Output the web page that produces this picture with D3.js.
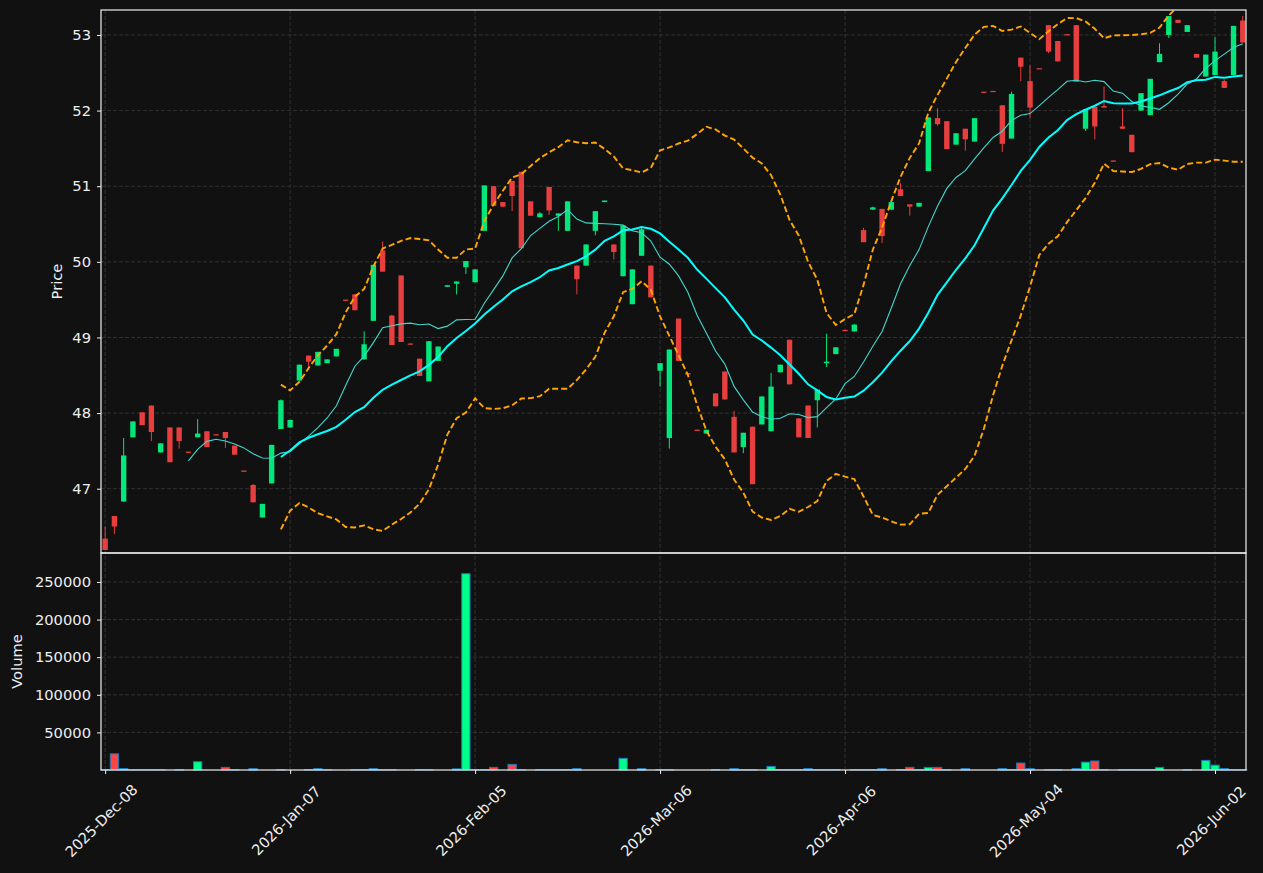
<!DOCTYPE html>
<html>
<head>
<meta charset="utf-8">
<script src="https://cdn.jsdelivr.net/npm/d3@7"></script>
<style>
  html, body { margin: 0; padding: 0; background: #111111; }
  svg { display: block; }
  text { font-family: "DejaVu Sans", sans-serif; fill: #eeeeee; }
</style>
</head>
<body>
<svg id="chart" width="1263" height="873"></svg>
<script>
// daily bars, index 0 = 2025-12-08 ... index 123 = 2026-06-05
var opens = [46.34,46.64,46.83,47.68,48.01,48.10,47.48,47.81,47.81,47.49,47.68,47.76,47.72,47.75,47.57,47.24,47.05,46.62,47.07,47.79,
  47.81,48.43,48.76,48.63,48.66,48.75,49.50,49.57,48.71,49.22,50.15,49.29,49.82,48.92,48.72,48.42,48.69,49.67,49.71,49.93,
  49.73,50.41,51.00,50.79,51.07,51.19,50.80,50.59,50.99,50.61,50.41,49.95,49.95,50.41,50.79,50.23,49.81,49.44,50.08,49.95,
  48.56,47.67,49.25,48.53,47.78,47.73,48.26,48.55,47.95,47.55,47.82,47.85,47.76,48.54,48.97,47.93,48.10,48.17,48.66,48.78,
  49.10,49.08,50.42,50.69,50.70,50.69,50.96,50.76,50.73,51.20,51.90,51.86,51.55,51.76,51.59,52.25,52.26,52.07,51.63,52.70,
  52.39,52.56,53.13,52.92,53.01,53.13,51.76,52.05,52.06,51.34,51.79,51.68,52.00,51.94,52.64,53.00,53.20,53.04,52.75,52.45,
  52.47,52.39,52.47,53.19];
var highs = [46.50,46.64,47.67,47.89,48.01,48.10,47.60,47.81,47.81,47.49,47.92,47.76,47.72,47.75,47.57,47.24,47.06,46.80,47.58,48.18,
  47.91,48.64,48.76,48.81,48.71,48.85,49.50,49.57,49.08,49.96,50.27,49.30,49.82,48.92,48.72,48.95,48.88,49.69,49.74,50.01,
  49.90,51.01,51.00,50.79,51.07,51.19,50.80,50.66,50.99,50.64,50.80,49.95,50.23,50.67,50.81,50.23,50.48,49.90,50.46,49.95,
  48.66,48.84,49.25,48.53,47.78,47.78,48.26,48.55,48.03,47.74,47.82,48.22,48.53,48.64,48.97,47.93,48.10,48.31,49.05,48.87,
  49.10,49.18,50.45,50.73,50.70,50.79,51.04,50.76,50.78,51.91,52.03,51.86,51.70,51.76,51.90,52.25,52.26,52.07,52.25,52.70,
  52.60,52.56,53.13,52.92,53.01,53.13,52.02,52.05,52.32,51.34,52.03,51.68,52.23,52.42,52.89,53.25,53.20,53.13,52.75,52.74,
  52.97,52.41,53.12,53.25];
var lows = [46.19,46.40,46.83,47.68,47.84,47.63,47.48,47.35,47.53,47.48,47.68,47.55,47.71,47.54,47.45,47.23,46.82,46.62,47.07,47.79,
  47.81,48.43,48.57,48.63,48.66,48.75,49.49,49.36,48.71,49.22,49.87,48.90,48.94,48.91,48.49,48.42,48.69,49.67,49.57,49.84,
  49.73,50.41,50.74,50.73,50.67,50.18,50.61,50.59,50.62,50.41,50.41,49.57,49.95,50.35,50.79,50.03,49.81,49.44,50.08,49.53,
  48.35,47.53,48.69,48.51,47.77,47.73,48.09,48.18,47.48,47.47,47.06,47.85,47.76,48.54,48.38,47.68,47.67,47.81,48.61,48.78,
  49.09,49.08,50.26,50.69,50.25,50.69,50.87,50.61,50.73,51.20,51.80,51.49,51.55,51.47,51.59,52.24,52.25,51.45,51.63,52.39,
  51.90,52.55,52.76,52.65,53.00,52.38,51.73,51.62,52.04,51.33,51.76,51.45,52.00,51.94,52.64,52.96,53.16,53.04,52.70,52.45,
  52.47,52.30,52.47,52.90];
var closes = [46.19,46.50,47.44,47.89,47.84,47.75,47.60,47.35,47.63,47.48,47.73,47.55,47.71,47.67,47.45,47.23,46.82,46.80,47.58,48.17,
  47.91,48.64,48.68,48.81,48.71,48.85,49.49,49.36,48.91,49.96,49.87,48.90,48.94,48.91,48.49,48.95,48.88,49.69,49.74,50.01,
  49.90,51.01,50.74,50.73,50.87,50.18,50.61,50.64,50.68,50.64,50.80,49.77,50.23,50.67,50.81,50.13,50.48,49.90,50.43,49.53,
  48.66,48.84,48.69,48.51,47.77,47.78,48.09,48.18,47.48,47.74,47.06,48.22,48.35,48.64,48.38,47.68,47.67,48.31,48.68,48.87,
  49.09,49.17,50.26,50.72,50.34,50.79,50.87,50.73,50.78,51.91,51.82,51.49,51.70,51.62,51.90,52.24,52.25,51.56,52.22,52.58,
  52.04,52.55,52.78,52.65,53.00,52.38,52.02,51.79,52.04,51.33,51.76,51.45,52.23,52.42,52.75,53.25,53.16,53.13,52.70,52.74,
  52.78,52.30,53.12,52.90];
var volumes = [400,21500,2000,400,400,400,400,0,400,0,11000,0,0,3500,400,0,2000,0,0,400,
  0,0,400,2000,400,0,0,400,400,2000,400,400,0,0,400,400,0,0,1500,261000,
  400,400,3500,0,7500,400,0,400,400,400,400,2000,0,0,0,0,15500,0,2000,0,
  400,400,0,0,0,0,400,0,2000,400,400,0,4800,400,400,400,2000,400,400,400,
  0,400,400,400,2000,0,400,3500,400,3500,3500,400,0,2000,0,0,0,2000,400,9300,
  2000,0,400,400,0,2000,10500,12000,400,0,400,400,400,400,3500,0,0,400,0,12800,
  6500,2000,400,400];

var tickIndex = [0, 20, 40, 60, 80, 100, 120];
var tickLabels = ["2025-Dec-08", "2026-Jan-07", "2026-Feb-05", "2026-Mar-06", "2026-Apr-06", "2026-May-04", "2026-Jun-02"];
var priceTicks = [47, 48, 49, 50, 51, 52, 53];
var volumeTicks = [50000, 100000, 150000, 200000, 250000];

(function(d3) {
  var svg = d3.select("#chart");
  var left = 101, right = 1246, pTop = 10, pBottom = 553, vBottom = 770;
  var upColor = "#00ff88", downColor = "#ff4444";
  var n = closes.length;

  var x = d3.scaleLinear().domain([-0.45, n - 0.65]).range([left, right]);
  var y = d3.scaleLinear().domain([46.15, 53.33]).range([pBottom, pTop]);
  var yv = d3.scaleLinear().domain([0, 288500]).range([vBottom, pBottom]);
  var step = x(1) - x(0);

  svg.append("rect").attr("width", 1263).attr("height", 873).attr("fill", "#111111");

  // grids
  var grid = svg.append("g").attr("stroke", "#3a3a3a").attr("stroke-width", 0.8).attr("stroke-dasharray", "4,2");
  tickIndex.forEach(function(t) {
    grid.append("line").attr("x1", x(t)).attr("x2", x(t)).attr("y1", pTop).attr("y2", vBottom);
  });
  priceTicks.forEach(function(p) {
    grid.append("line").attr("x1", left).attr("x2", right).attr("y1", y(p)).attr("y2", y(p));
  });
  volumeTicks.forEach(function(v) {
    grid.append("line").attr("x1", left).attr("x2", right).attr("y1", yv(v)).attr("y2", yv(v));
  });

  // rolling stats on closes
  function rolling(w, fn) {
    return closes.map(function(c, i) {
      if (i < w - 1) return null;
      return fn(closes.slice(i - w + 1, i + 1));
    });
  }
  var ma10 = rolling(10, d3.mean);
  var ma20 = rolling(20, d3.mean);
  var sd20 = rolling(20, function(a) { var m = d3.mean(a); return Math.sqrt(d3.mean(a, function(v) { return (v - m) * (v - m); })); });
  var upper = ma20.map(function(m, i) { return m == null ? null : m + 2 * sd20[i]; });
  var lower = ma20.map(function(m, i) { return m == null ? null : m - 2 * sd20[i]; });

  var line = d3.line()
    .defined(function(d) { return d != null; })
    .x(function(d, i) { return x(i); })
    .y(function(d) { return y(d); });

  svg.append("clipPath").attr("id", "pclip").append("rect")
    .attr("x", left).attr("y", pTop).attr("width", right - left).attr("height", pBottom - pTop);
  var pg = svg.append("g").attr("clip-path", "url(#pclip)");

  // candles
  var candles = pg.selectAll(".candle").data(closes).enter().append("g").attr("class", "candle")
    .attr("opacity", 0.9);
  candles.append("line")
    .attr("x1", function(d, i) { return x(i); })
    .attr("x2", function(d, i) { return x(i); })
    .attr("y1", function(d, i) { return y(highs[i]); })
    .attr("y2", function(d, i) { return y(lows[i]); })
    .attr("stroke", function(d, i) { return closes[i] >= opens[i] ? upColor : downColor; })
    .attr("stroke-width", 1);
  candles.append("rect")
    .attr("x", function(d, i) { return x(i) - step * 0.29; })
    .attr("width", step * 0.58)
    .attr("y", function(d, i) { return y(Math.max(opens[i], closes[i])); })
    .attr("height", function(d, i) { return Math.max(1.2, Math.abs(y(opens[i]) - y(closes[i]))); })
    .attr("fill", function(d, i) { return closes[i] >= opens[i] ? upColor : downColor; });

  // averages and bands
  pg.append("path").attr("d", line(ma10)).attr("fill", "none").attr("stroke", "#40d8cc").attr("stroke-width", 1.1);
  pg.append("path").attr("d", line(ma20)).attr("fill", "none").attr("stroke", "#00ffff").attr("stroke-width", 2);
  [upper, lower].forEach(function(b) {
    pg.append("path").attr("d", line(b)).attr("fill", "none").attr("stroke", "#ffa500")
      .attr("stroke-width", 1.9).attr("stroke-dasharray", "6,3");
  });

  // volume
  var vg = svg.append("g");
  volumes.forEach(function(v, i) {
    if (v <= 0) return;
    vg.append("rect")
      .attr("x", x(i) - step * 0.45)
      .attr("width", step * 0.9)
      .attr("y", yv(v))
      .attr("height", vBottom - yv(v))
      .attr("fill", closes[i] >= opens[i] ? upColor : downColor)
      .attr("stroke", "#1f77b4")
      .attr("stroke-width", 1);
  });

  // frames
  var frame = svg.append("g").attr("fill", "none").attr("stroke", "#f0f0f0").attr("stroke-width", 1.2);
  frame.append("rect").attr("x", left).attr("y", pTop).attr("width", right - left).attr("height", pBottom - pTop);
  frame.append("rect").attr("x", left).attr("y", pBottom).attr("width", right - left).attr("height", vBottom - pBottom);

  // axes
  var ya = svg.append("g").attr("transform", "translate(" + left + ",0)")
    .call(d3.axisLeft(y).tickValues(priceTicks).tickSize(4).tickPadding(6).tickFormat(d3.format("d")));
  var va = svg.append("g").attr("transform", "translate(" + left + ",0)")
    .call(d3.axisLeft(yv).tickValues(volumeTicks).tickSize(4).tickPadding(6).tickFormat(d3.format("d")));
  var xa = svg.append("g").attr("transform", "translate(0," + vBottom + ")")
    .call(d3.axisBottom(x).tickValues(tickIndex).tickSize(4).tickFormat(function(d, i) { return tickLabels[i]; }));
  [ya, va, xa].forEach(function(a) {
    a.select(".domain").remove();
    a.selectAll(".tick line").attr("stroke", "#f0f0f0");
    a.selectAll("text").attr("fill", "#f2f2f2").style("font-size", "14.7px").style("font-family", "DejaVu Sans, sans-serif");
  });
  xa.selectAll("text")
    .attr("y", 0).attr("dy", "0.32em")
    .attr("text-anchor", "middle")
    .attr("transform", "translate(-4,51) rotate(-45)");

  svg.append("text").attr("transform", "translate(62," + ((pTop + pBottom) / 2) + ") rotate(-90)")
    .attr("text-anchor", "middle").style("font-size", "14.7px").text("Price");
  svg.append("text").attr("transform", "translate(22," + ((pBottom + vBottom) / 2) + ") rotate(-90)")
    .attr("text-anchor", "middle").style("font-size", "14.7px").text("Volume");
})(window.d3);
</script>
</body>
</html>
